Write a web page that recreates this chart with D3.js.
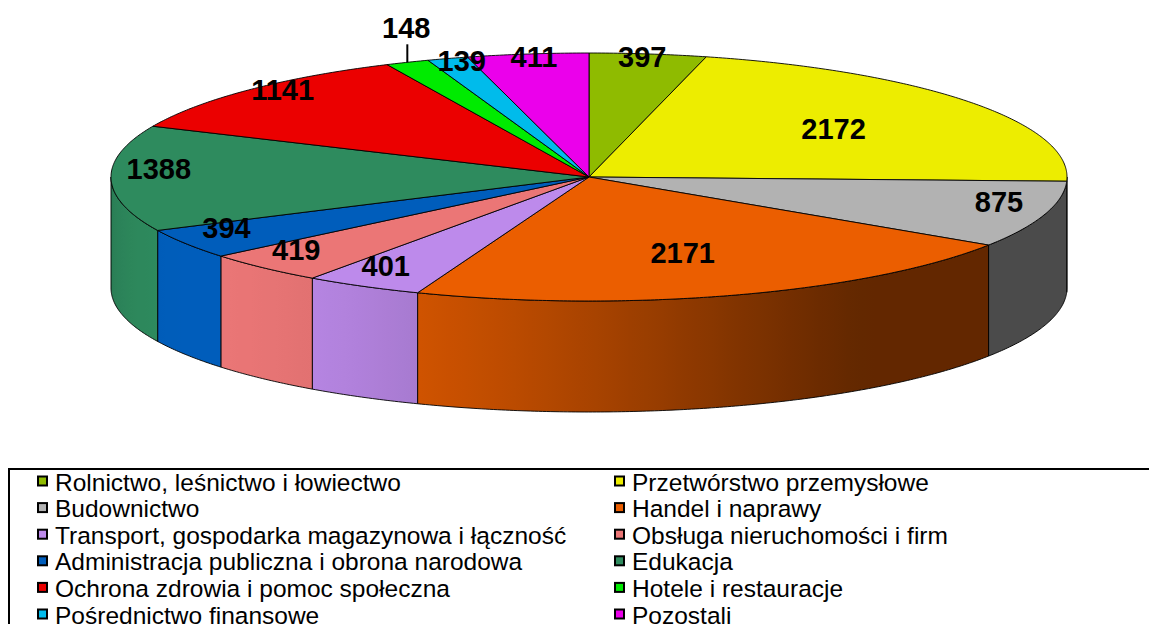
<!DOCTYPE html>
<html lang="pl">
<head>
<meta charset="UTF-8">
<script src="https://d3js.org/d3.v7.min.js"></script>
<style>
  * { margin: 0; padding: 0; }
  body { background: #fff; width: 1149px; height: 624px; overflow: hidden; font-family: Arial, 'Liberation Sans', sans-serif; }
  svg { display: block; }
</style>
</head>
<body>
<svg id="chart" width="1149" height="624"></svg>
<script>
// dane
const categories = [
  'Rolnictwo, leśnictwo i łowiectwo',
  'Przetwórstwo przemysłowe',
  'Budownictwo',
  'Handel i naprawy',
  'Transport, gospodarka magazynowa i łączność',
  'Obsługa nieruchomości i firm',
  'Administracja publiczna i obrona narodowa',
  'Edukacja',
  'Ochrona zdrowia i pomoc społeczna',
  'Hotele i restauracje',
  'Pośrednictwo finansowe',
  'Pozostali'
];
const values = [397, 2172, 875, 2171, 401, 419, 394, 1388, 1141, 148, 139, 411];
const colors = ['#8fbb00', '#eded00', '#b2b2b2', '#eb5e00', '#bd8aeb', '#eb7676',
                '#005dbb', '#2e8b5e', '#eb0000', '#00eb00', '#00bbeb', '#eb00eb'];
const outsideLabels = ['Hotele i restauracje'];

(function() {
  const svg = d3.select('#chart');
  const defs = svg.append('defs');
  const cx = 589, cy = 177, rx = 478, ry = 124, depth = 111;

  // rzut elipsy: jednostkowe wsp. -> piksele
  const xs = d3.scaleLinear().domain([-1, 1]).range([cx - rx, cx + rx]);
  const ys = d3.scaleLinear().domain([-1, 1]).range([cy - ry, cy + ry]);
  const px = (a, r = 1) => xs(r * Math.sin(a));
  const py = (a, r = 1) => ys(-r * Math.cos(a));

  const data = categories.map((c, i) => ({ name: c, value: values[i], color: colors[i] }));
  const arcs = d3.pie().sort(null).value(d => d.value)(data);

  const line = d3.line();
  const rad = d => d * Math.PI / 180;
  const sample = (a0, a1) => {
    const n = Math.max(2, Math.ceil(Math.abs(a1 - a0) / rad(0.5)));
    return d3.range(n + 1).map(i => a0 + (a1 - a0) * i / n);
  };

  // cieniowanie ścian bocznych
  const shade = a => {
    const c = Math.cos(a - rad(235));
    return 0.42 + 0.58 * Math.pow(Math.max(0, c), 1.2);
  };
  const darken = (col, f) => {
    const c = d3.rgb(col);
    return d3.rgb(c.r * f, c.g * f, c.b * f).formatHex();
  };

  // ściany boczne (przód: 90°..270°)
  const walls = svg.append('g');
  arcs.forEach((d, i) => {
    const a0 = Math.max(d.startAngle, Math.PI / 2);
    const a1 = Math.min(d.endAngle, Math.PI * 1.5);
    if (a1 <= a0) return;
    const steps = sample(a0, a1);
    const xa = px(a0), xb = px(a1);
    const grad = defs.append('linearGradient')
      .attr('id', 'wall' + i)
      .attr('gradientUnits', 'userSpaceOnUse')
      .attr('x1', xa).attr('x2', xb).attr('y1', 0).attr('y2', 0);
    steps.filter((_, k) => k % 4 === 0 || k === steps.length - 1).forEach(a => {
      grad.append('stop')
        .attr('offset', xb === xa ? 0 : (px(a) - xa) / (xb - xa))
        .attr('stop-color', darken(d.data.color, shade(a)));
    });
    const top = steps.map(a => [px(a), py(a)]);
    const bot = steps.slice().reverse().map(a => [px(a), py(a) + depth]);
    walls.append('path')
      .attr('d', line(top.concat(bot)) + 'Z')
      .attr('fill', 'url(#wall' + i + ')')
      .attr('stroke', '#000')
      .attr('stroke-width', 0.9);
  });

  // górne powierzchnie
  const tops = svg.append('g');
  arcs.forEach(d => {
    const pts = [[px(0, 0), py(0, 0)]].concat(sample(d.startAngle, d.endAngle).map(a => [px(a), py(a)]));
    tops.append('path')
      .attr('d', line(pts) + 'Z')
      .attr('fill', d.data.color)
      .attr('stroke', '#000')
      .attr('stroke-width', 0.9)
      .attr('stroke-linejoin', 'round');
  });

  // etykiety wartości
  const labels = svg.append('g')
    .attr('font-family', 'Arial, "Liberation Sans", sans-serif')
    .attr('font-weight', 'bold')
    .attr('font-size', 29)
    .attr('fill', '#000')
    .attr('text-anchor', 'middle');
  arcs.forEach(d => {
    const mid = (d.startAngle + d.endAngle) / 2;
    const span = d.endAngle - d.startAngle;
    if (outsideLabels.includes(d.data.name)) {
      const x = px(mid), y = py(mid);
      labels.append('line')
        .attr('x1', x).attr('y1', y).attr('x2', x).attr('y2', y - 18)
        .attr('stroke', '#000').attr('stroke-width', 2);
      labels.append('text')
        .attr('x', x - 1).attr('y', y - 34)
        .attr('dominant-baseline', 'central')
        .text(d.data.value);
      return;
    }
    const big = span > rad(60);
    const r = big ? 0.64 : 0.9;
    labels.append('text')
      .attr('x', px(mid, r))
      .attr('y', py(mid, r) - (big ? 0 : 9))
      .attr('dominant-baseline', 'central')
      .text(d.data.value);
  });

  // legenda
  const legend = svg.append('g');
  legend.append('rect')
    .attr('x', 9).attr('y', 469).attr('width', 1200).attr('height', 300)
    .attr('fill', '#fff').attr('stroke', '#000').attr('stroke-width', 2);
  const colX = [37, 614], rowY = d3.scaleLinear().domain([0, 1]).range([481, 507.6]);
  data.forEach((d, i) => {
    const x = colX[i % 2], y = rowY(Math.floor(i / 2));
    legend.append('rect')
      .attr('x', x + 1).attr('y', y - 4.5).attr('width', 9).attr('height', 9)
      .attr('fill', d.color).attr('stroke', '#000').attr('stroke-width', 2);
    legend.append('text')
      .attr('x', x + 18).attr('y', y + 1)
      .attr('dominant-baseline', 'central')
      .attr('font-family', 'Arial, "Liberation Sans", sans-serif')
      .attr('font-size', 24.5)
      .attr('fill', '#000')
      .text(d.name);
  });
})();
</script>
</body>
</html>
